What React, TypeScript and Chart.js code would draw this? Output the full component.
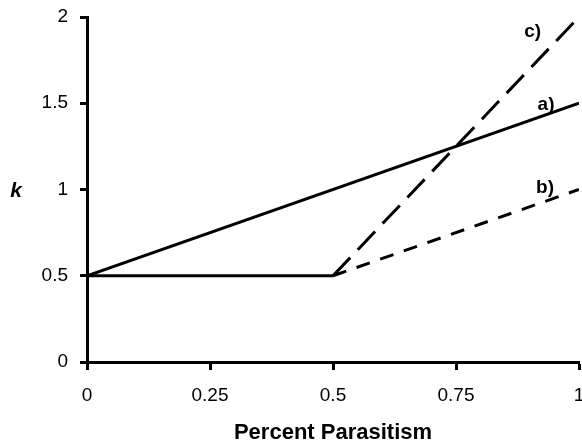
import React, { useEffect, useRef } from "react";
import { Chart, registerables } from "chart.js";

Chart.register(...registerables);

// Tick values
const xTicks = [0, 0.25, 0.5, 0.75, 1];
const yTicks = [0, 0.5, 1, 1.5, 2];

// Shared flat segment (b and c before 0.5)
const baseX = [0, 0.5];
const baseY = [0.5, 0.5];
// a) solid
const aX = [0, 1];
const aY = [0.5, 1.5];
// b) short dashes
const bX = [0.5, 1];
const bY = [0.5, 1.0];
// c) long dashes
const cX = [0.5, 1];
const cY = [0.5, 2.0];

// Series labels and their anchor values
const seriesLabels = ["a)", "b)", "c)"];
const labelX = [0.933, 0.931, 0.906];
const labelY = [1.49, 1.01, 1.913];

const xTitle = "Percent Parasitism";
const yTitle = "k";

const FONT = "'Liberation Sans', Arial, Helvetica, sans-serif";

const toPts = (xs: number[], ys: number[]) => xs.map((x, i) => ({ x, y: ys[i] }));

export default function App() {
  const ref = useRef<HTMLCanvasElement | null>(null);

  useEffect(() => {
    if (!ref.current) return;
    const labelPlugin = {
      id: "seriesLabels",
      afterDraw(chart: any) {
        const ctx = chart.ctx;
        const xs = chart.scales.x;
        const ys = chart.scales.y;
        ctx.save();
        ctx.fillStyle = "#000";
        ctx.textAlign = "center";
        ctx.textBaseline = "middle";
        ctx.font = `bold 19px ${FONT}`;
        seriesLabels.forEach((t, i) => {
          ctx.fillText(t, xs.getPixelForValue(labelX[i]), ys.getPixelForValue(labelY[i]));
        });
        ctx.font = `italic bold 21px ${FONT}`;
        ctx.fillText(yTitle, chart.chartArea.left - 71, ys.getPixelForValue(1) + 2);
        ctx.restore();
      },
    };

    const common = {
      showLine: true,
      borderColor: "#000",
      borderWidth: 3,
      pointRadius: 0,
      fill: false,
      tension: 0,
    };

    const chart = new Chart(ref.current, {
      type: "scatter",
      data: {
        datasets: [
          { ...common, label: "base", data: toPts(baseX, baseY) },
          { ...common, label: "a", data: toPts(aX, aY) },
          { ...common, label: "b", data: toPts(bX, bY), borderDash: [14, 11] },
          { ...common, label: "c", data: toPts(cX, cY), borderDash: [25, 11] },
        ],
      },
      options: {
        animation: false,
        responsive: false,
        layout: { padding: { top: 17, left: 0, right: 3, bottom: 0 } },
        plugins: { legend: { display: false }, tooltip: { enabled: false } },
        scales: {
          x: {
            type: "linear",
            min: 0,
            max: 1,
            afterBuildTicks: (s: any) => {
              s.ticks = xTicks.map((v) => ({ value: v }));
            },
            afterFit: (s: any) => {
              s.height = 86;
              s.paddingLeft = 0;
              s.paddingRight = 0;
            },
            ticks: {
              color: "#000",
              font: { family: FONT, size: 19 },
              padding: 14,
              maxRotation: 0,
              callback: (v: any) => String(v),
            },
            grid: {
              display: true,
              drawOnChartArea: false,
              drawTicks: true,
              tickLength: 8,
              tickWidth: 3,
              tickColor: "#000",
            },
            border: { display: true, width: 3, color: "#000" },
            title: {
              display: true,
              text: xTitle,
              color: "#000",
              font: { family: FONT, size: 22, weight: "bold" },
              padding: { top: 0, bottom: 2 },
            },
          },
          y: {
            type: "linear",
            min: 0,
            max: 2,
            afterBuildTicks: (s: any) => {
              s.ticks = yTicks.map((v) => ({ value: v }));
            },
            afterFit: (s: any) => {
              s.width = 87;
              s.paddingTop = 0;
              s.paddingBottom = 0;
            },
            ticks: {
              color: "#000",
              font: { family: FONT, size: 19 },
              padding: 12,
              callback: (v: any) => String(v),
            },
            grid: {
              display: true,
              drawOnChartArea: false,
              drawTicks: true,
              tickLength: 7,
              tickWidth: 3,
              tickColor: "#000",
            },
            border: { display: true, width: 3, color: "#000" },
          },
        },
      },
      plugins: [labelPlugin],
    } as any);

    return () => chart.destroy();
  }, []);

  return (
    <div
      style={{
        position: "fixed",
        left: 0,
        top: 0,
        width: 582,
        height: 448,
        overflow: "hidden",
        background: "#fff",
      }}
    >
      <canvas ref={ref} width={582} height={448} style={{ display: "block" }} />
    </div>
  );
}
